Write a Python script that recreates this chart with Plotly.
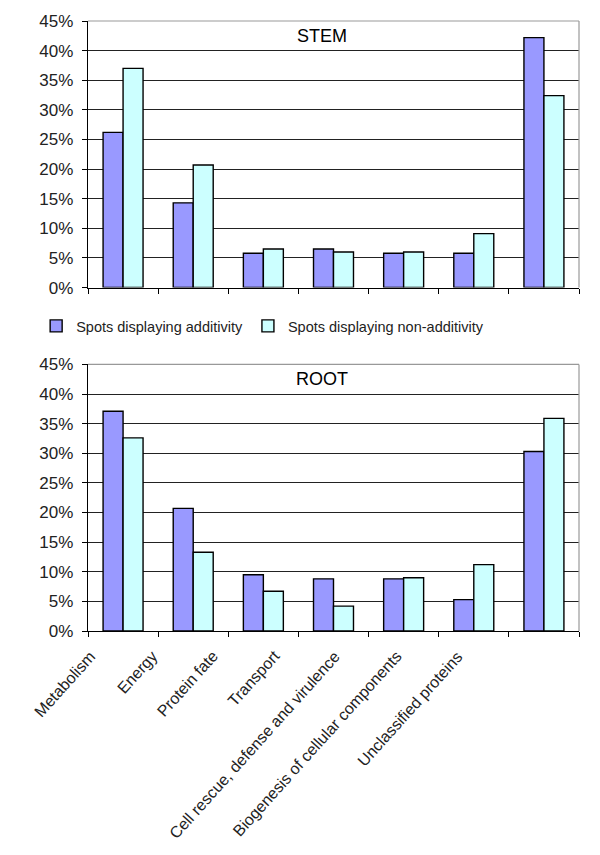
import plotly.graph_objects as go
from plotly.subplots import make_subplots

categories = [
    "Metabolism",
    "Energy",
    "Protein fate",
    "Transport",
    "Cell rescue, defense and virulence",
    "Biogenesis of cellular components",
    "Unclassified proteins",
]

stem_additive = [26.2, 14.3, 5.8, 6.5, 5.8, 5.8, 42.2]
stem_non_additive = [37.0, 20.7, 6.5, 6.0, 6.0, 9.1, 32.4]

root_additive = [37.1, 20.7, 9.5, 8.8, 8.8, 5.3, 30.3]
root_non_additive = [32.6, 13.3, 6.7, 4.2, 9.0, 11.2, 35.9]

series_names = ["Spots displaying additivity", "Spots displaying non-additivity"]
series_colors = ["#9999FF", "#CCFFFF"]

fig = make_subplots(rows=2, cols=1, vertical_spacing=0.126)

panels = [(1, stem_additive, stem_non_additive), (2, root_additive, root_non_additive)]
for row, add_vals, non_vals in panels:
    for name, color, vals in zip(series_names, series_colors, [add_vals, non_vals]):
        fig.add_trace(
            go.Bar(
                x=categories,
                y=vals,
                name=name,
                legendgroup=name,
                showlegend=(row == 1),
                marker=dict(color=color, line=dict(color="black", width=1.4)),
            ),
            row=row,
            col=1,
        )

axis_font = dict(family="Liberation Sans, Arial", size=17, color="#222")

fig.update_yaxes(
    range=[0, 45],
    dtick=5,
    ticksuffix="%",
    showgrid=True,
    gridcolor="#222",
    gridwidth=1.2,
    showline=True,
    linecolor="black",
    linewidth=1.4,
    ticks="outside",
    ticklen=5,
    tickcolor="black",
    tickfont=axis_font,
    ticklabelstandoff=5,
    zeroline=False,
)
fig.update_xaxes(
    showline=True,
    linecolor="black",
    linewidth=1.4,
    ticks="outside",
    ticklen=5,
    tickcolor="black",
    tickson="boundaries",
    showgrid=False,
    showticklabels=False,
)

# category labels under the ROOT panel, slanted like the original
n = len(categories)
for i, cat in enumerate(categories):
    fig.add_annotation(
        text=cat, x=(i + 0.5) / n, xref="x2 domain", y=0, yref="y2 domain",
        xanchor="right", yanchor="top", textangle=-48,
        xshift=-21 - 9 * i, yshift=-14, showarrow=False,
        font=dict(family="Liberation Sans, Arial", size=16, color="#222"),
    )

# gray top/right frame of each plot area
for xr, yr in [("x", "y"), ("x2", "y2")]:
    fig.add_shape(type="line", xref=xr + " domain", yref=yr + " domain",
                  x0=0, x1=1, y0=1, y1=1, line=dict(color="#999", width=1.2))
    fig.add_shape(type="line", xref=xr + " domain", yref=yr + " domain",
                  x0=1, x1=1, y0=0, y1=1, line=dict(color="#999", width=1.2))

title_font = dict(family="Liberation Sans, Arial", size=18, color="black")
fig.add_annotation(text="STEM", xref="x domain", yref="y domain", x=0.477, y=0.944,
                   yanchor="middle", showarrow=False, font=title_font)
fig.add_annotation(text="ROOT", xref="x2 domain", yref="y2 domain", x=0.477, y=0.944,
                   yanchor="middle", showarrow=False, font=title_font)

fig.update_layout(
    width=600,
    height=855,
    margin=dict(l=80, r=29, t=4, b=232),
    plot_bgcolor="white",
    paper_bgcolor="white",
    barmode="group",
    bargap=0.43,
    bargroupgap=0,
    font=dict(family="Liberation Sans, Arial", color="#222"),
    legend=dict(
        orientation="h",
        x=0.817,
        xanchor="right",
        y=0.5,
        yanchor="middle",
        font=dict(family="Liberation Sans, Arial", size=14.5, color="#222"),
        itemwidth=30,
    ),
)

fig.write_html("out.html")
